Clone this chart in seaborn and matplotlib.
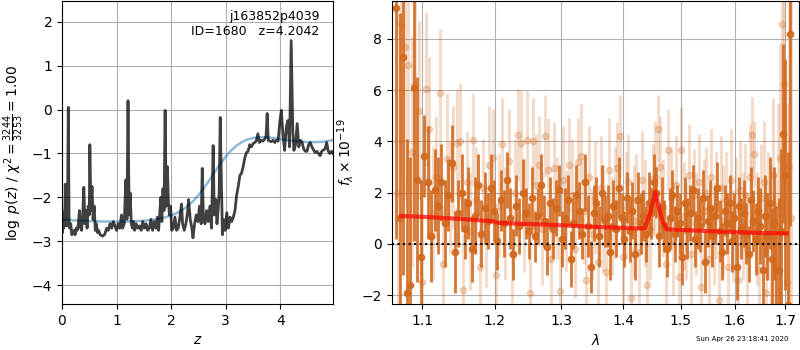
import numpy as np
import matplotlib
matplotlib.use("Agg")
import matplotlib.pyplot as plt
from matplotlib.ticker import FixedLocator, FormatStrFormatter, NullLocator
import seaborn as sns

# ---------------- redshift probability ----------------
pz_z = [
    0.00, 0.01, 0.02, 0.03, 0.04, 0.05, 0.06, 0.07, 0.08, 0.09,
    0.10, 0.115, 0.13, 0.14, 0.16, 0.18, 0.20, 0.22, 0.24, 0.26,
    0.28, 0.30, 0.32, 0.34, 0.36, 0.38, 0.40, 0.42, 0.44, 0.46,
    0.48, 0.50, 0.51, 0.53, 0.55, 0.57, 0.59, 0.61, 0.63, 0.65,
    0.67, 0.70, 0.74, 0.78, 0.82, 0.85, 0.88, 0.91, 0.94, 0.97,
    1.00, 1.03, 1.06, 1.09, 1.11, 1.14, 1.17, 1.19, 1.21, 1.23,
    1.25, 1.27, 1.29, 1.31, 1.33, 1.36, 1.39, 1.42, 1.45, 1.48,
    1.51, 1.54, 1.57, 1.60, 1.63, 1.66, 1.69, 1.72, 1.75, 1.77,
    1.79, 1.81, 1.83, 1.85, 1.87, 1.89, 1.91, 1.93, 1.95, 1.97,
    1.99, 2.01, 2.04, 2.07, 2.10, 2.13, 2.16, 2.19, 2.21, 2.24,
    2.27, 2.30, 2.32, 2.35, 2.38, 2.40, 2.43, 2.46, 2.49, 2.52,
    2.55, 2.57, 2.59, 2.62, 2.65, 2.68, 2.71, 2.74, 2.77, 2.79,
    2.82, 2.84, 2.86, 2.88, 2.90, 2.92, 2.94, 2.96, 2.99, 3.02,
    3.05, 3.08, 3.11, 3.14, 3.17, 3.20, 3.23, 3.26, 3.29, 3.32,
    3.35, 3.38, 3.41, 3.44, 3.47, 3.50, 3.53, 3.56, 3.59, 3.62,
    3.65, 3.68, 3.71, 3.74, 3.76, 3.78, 3.81, 3.84, 3.87, 3.90,
    3.93, 3.96, 3.99, 4.02, 4.05, 4.08, 4.11, 4.14, 4.17, 4.20,
    4.23, 4.25, 4.28, 4.31, 4.34, 4.37, 4.40, 4.43, 4.46, 4.49,
    4.52, 4.55, 4.58, 4.61, 4.64, 4.67, 4.70, 4.73, 4.76, 4.79,
    4.82, 4.85, 4.88, 4.91, 4.94, 4.97,
]
pz_logp = [
    -2.30, -2.80, -2.45, -2.70, -2.55, -2.65, -1.70, -2.60, -1.75, -2.65,
    -2.50, 0.05, -2.55, -2.70, -2.60, -2.85, -2.80, -2.75, -2.85, -2.70,
    -2.75, -2.60, -2.30, -2.70, -2.75, -2.40, -1.77, -2.60, -2.30, -2.70,
    -2.20, -2.40, -0.80, -2.30, -1.75, -2.50, -2.20, -2.75, -2.60, -2.80,
    -2.75, -2.85, -2.88, -2.85, -2.70, -2.75, -2.60, -2.70, -2.55, -2.65,
    -2.75, -2.60, -2.70, -2.40, -2.70, -2.60, -1.60, -2.50, 0.20, -2.40,
    -1.90, -2.60, -2.70, -2.55, -2.75, -2.60, -2.70, -2.65, -2.75, -2.55,
    -2.70, -2.60, -2.75, -2.70, -2.50, -2.75, -2.55, -2.70, -2.45, -2.75,
    -2.40, -2.00, -2.55, -1.80, -2.30, -0.02, -2.20, -1.30, -2.10, -2.40,
    -2.20, -2.75, -2.70, -2.45, -2.75, -2.70, -2.45, -2.15, -2.60, -2.75,
    -2.60, -2.35, -2.05, -2.50, -2.70, -2.92, -2.60, -2.40, -2.55, -2.20,
    -2.60, -1.34, -2.40, -2.60, -2.30, -2.55, -2.20, -2.70, -0.82, -2.40,
    -2.05, -2.60, -2.30, -1.90, -0.18, -1.60, -2.85, -2.50, -2.75, -2.35,
    -2.70, -2.45, -2.55, -2.45, -2.30, -1.95, -1.75, -1.50, -1.45, -1.30,
    -1.10, -0.98, -0.95, -0.80, -0.85, -0.78, -0.75, -0.72, -0.55, -0.75,
    -0.70, -0.72, -0.68, -0.60, -0.09, -0.70, -0.72, -0.73, -0.70, -0.75,
    -0.70, -0.72, -0.30, -0.02, -0.60, -0.93, -0.40, -0.25, -0.85, 1.57,
    -0.50, -0.93, -0.80, -0.32, -0.85, -0.70, -0.75, -0.90, -0.95, -0.95,
    -0.80, -0.75, -0.85, -0.92, -0.98, -0.95, -1.00, -1.05, -0.95, -0.92,
    -0.90, -0.75, -0.95, -1.00, -0.95, -1.00,
]

# smooth prior curve
prior_z = [
    0.0, 0.1, 0.2, 0.3, 0.4, 0.5, 0.6, 0.7, 0.8, 0.9,
    1.0, 1.1, 1.2, 1.3, 1.4, 1.5, 1.6, 1.7, 1.8, 1.9,
    2.0, 2.1, 2.2, 2.3, 2.4, 2.5, 2.6, 2.7, 2.8, 2.9,
    3.0, 3.1, 3.2, 3.3, 3.4, 3.5, 3.6, 3.7, 3.8, 3.9,
    4.0, 4.1, 4.2, 4.3, 4.4, 4.5, 4.6, 4.7, 4.8, 4.9, 4.97,
]
prior_logp = [
    -2.50, -2.51, -2.52, -2.53, -2.53, -2.54, -2.54, -2.55, -2.55, -2.55,
    -2.55, -2.55, -2.55, -2.54, -2.54, -2.53, -2.52, -2.50, -2.48, -2.45,
    -2.41, -2.36, -2.29, -2.20, -2.09, -1.95, -1.79, -1.61, -1.42, -1.24,
    -1.07, -0.93, -0.82, -0.74, -0.68, -0.65, -0.63, -0.63, -0.64, -0.65,
    -0.67, -0.69, -0.71, -0.72, -0.73, -0.74, -0.74, -0.74, -0.73, -0.71, -0.69,
]

# ---------------- 1D spectrum ----------------
wave_step = 0.0046       # microns per pixel
dark_wave0 = 1.0660
light_wave0 = 1.0683

dark_flux = [
    9.2, 1.0, 7.3, -1.9, -1.6, 6.1, 2.5, -0.5, 3.45, 2.4,
    0.3, 2.1, 1.5, 2.4, 0.8, 1.9, 3.15, -0.3, 1.2, 2.0,
    0.6, 1.6, -0.2, 1.1, 2.3, 0.4, 1.4, 0.9, 2.2, 1.3,
    0.1, 1.7, 0.8, 2.5, 1.0, -0.4, 1.5, 0.7, 2.0, 1.2,
    0.5, 1.8, 0.3, 1.1, 2.3, 0.9, -0.1, 1.6, 0.6, 1.4,
    2.1, 0.2, 1.0, 1.7, -0.6, 0.8, 1.9, 1.3, 0.4, 2.4,
    0.7, -0.9, 1.2, 1.6, 0.3, 2.0, 0.9, 1.1, -0.3, 1.5,
    0.6, 2.2, 1.0, 0.2, 1.8, 0.5, 1.3, -0.4, 1.7, 0.8,
    1.1, 0.4, 1.6, 1.2, 2.4, 2.0, 0.3, 1.5, 0.7, -0.2,
    1.0, 1.9, 0.4, 1.3, 0.8, -0.5, 1.6, 0.6, 1.2, 2.1,
    0.2, 1.0, 0.7, 1.8, -0.7, 0.9, 1.4, 0.3, 1.1, 2.2,
    0.5, -0.3, 1.3, 0.8, 1.6, 0.1, 1.0, -0.9, 1.5, 0.6,
    1.2, 0.4, -0.4, 1.7, 0.9, 0.2, 1.3, 0.7, -1.0, 1.1,
    0.3, 1.6, -0.6, 0.8, -1.0, -1.0, 0.5, 4.3, 2.7, -2.4, 8.2,
]
dark_err = [
    9.0, 8.0, 8.5, 6.0, 5.0, 6.0, 4.0, 3.0, 1.6, 2.2,
    1.8, 1.6, 1.9, 1.5, 1.7, 1.4, 1.5, 1.6, 1.3, 1.5,
    1.2, 1.4, 1.3, 1.5, 1.2, 1.3, 1.4, 1.1, 1.3, 1.2,
    1.1, 1.2, 1.3, 1.1, 1.2, 1.0, 1.2, 1.1, 1.3, 1.0,
    1.1, 1.2, 1.0, 1.1, 1.2, 1.0, 1.1, 1.0, 1.2, 1.1,
    1.0, 1.1, 1.2, 1.0, 1.1, 1.0, 1.2, 1.1, 1.0, 1.1,
    1.2, 1.0, 1.1, 1.0, 1.2, 1.1, 1.0, 1.2, 1.1, 1.0,
    1.1, 1.2, 1.0, 1.1, 1.0, 1.2, 1.1, 1.0, 1.1, 1.2,
    1.0, 1.1, 1.2, 1.0, 1.1, 1.0, 1.2, 1.1, 1.0, 1.1,
    1.2, 1.0, 1.1, 1.0, 1.2, 1.1, 1.0, 1.2, 1.1, 1.0,
    1.1, 1.2, 1.0, 1.1, 1.2, 1.0, 1.1, 1.2, 1.1, 1.0,
    1.2, 1.1, 1.0, 1.2, 1.1, 1.2, 1.0, 1.3, 1.1, 1.2,
    1.3, 1.2, 1.1, 1.3, 1.2, 1.4, 1.3, 1.5, 1.4, 1.6,
    1.7, 1.8, 2.0, 2.2, 2.5, 2.8, 3.2, 3.5, 4.5, 6.0, 7.5,
]

light_flux = [
    2.0, 8.6, 7.7, 7.0, 3.6, 6.2, 5.2, -1.5, 6.05, 4.5,
    1.2, 2.6, 5.9, -0.8, 3.3, 1.8, 3.0, 3.95, 4.0, -1.8,
    2.4, 0.5, 4.05, 1.7, -0.9, 2.2, 0.3, 3.1, 3.35, -1.2,
    1.5, 3.9, 0.8, 3.25, -0.4, 2.0, 4.25, 3.95, 1.1, 4.05,
    -1.9, 4.0, 2.3, 3.1, 0.6, 4.2, 2.9, -0.6, 2.95, 1.4,
    -1.85, 2.5, 0.9, 3.1, 1.9, -0.2, 3.2, 3.45, 1.3, -1.4,
    2.6, 0.4, 1.8, -0.7, 2.2, 1.0, -1.1, 2.9, 0.7, 1.6,
    2.95, 4.2, -0.5, 1.5, 2.4, -2.1, 0.9, 1.7, -0.3, 2.5,
    1.2, -1.6, 0.6, 2.1, 2.6, 4.5, 3.0, 1.4, -0.8, 3.65,
    1.8, 0.2, 2.3, -1.3, 3.65, 1.1, 0.5, 2.7, -0.4, 1.9,
    0.8, 2.4, -1.7, 1.3, 2.0, -0.6, 2.6, 0.4, 1.5, -2.2,
    2.2, 0.9, 1.7, -0.9, 2.5, 0.3, 1.2, -1.4, 2.1, 0.7,
    1.9, -0.2, 2.6, 4.25, 3.5, 0.6, -1.0, 1.8, 2.4, -1.9,
    1.1, 0.2, 2.7, -0.7, 1.5, 3.35, 8.6, 6.25, -1.5, 3.0, 1.0,
]
light_err = [
    7.0, 6.0, 6.0, 5.0, 4.5, 4.0, 3.5, 4.0, 3.0, 2.8,
    2.6, 2.4, 2.5, 2.3, 2.6, 2.2, 2.4, 2.1, 2.3, 2.2,
    2.0, 2.3, 1.8, 2.1, 2.2, 1.9, 2.0, 2.3, 1.9, 2.1,
    2.0, 1.8, 2.2, 2.0, 1.9, 2.1, 1.8, 2.0, 2.2, 1.9,
    2.1, 1.7, 2.0, 1.9, 2.2, 1.6, 2.0, 2.1, 1.8, 2.0,
    1.9, 2.1, 2.0, 1.8, 2.2, 1.9, 1.7, 2.0, 2.1, 1.9,
    2.0, 1.8, 2.2, 1.9, 2.0, 2.1, 1.8, 2.0, 1.9, 2.2,
    1.8, 1.6, 2.0, 2.1, 1.9, 2.0, 2.2, 1.8, 2.0, 1.9,
    2.1, 1.9, 2.0, 1.8, 2.2, 1.3, 2.0, 1.9, 2.1, 1.6,
    2.0, 2.2, 1.9, 2.0, 1.7, 2.1, 1.9, 2.0, 2.2, 1.8,
    2.0, 1.9, 2.1, 2.0, 1.8, 2.2, 1.9, 2.0, 2.1, 1.9,
    2.0, 2.2, 1.9, 2.1, 2.0, 1.8, 2.2, 2.0, 1.9, 2.1,
    2.0, 2.2, 2.1, 1.5, 1.3, 2.2, 2.3, 2.1, 2.4, 2.3,
    2.5, 2.8, 3.0, 3.5, 4.0, 4.5, 5.0, 6.0, 7.0, 8.0, 9.0,
]

# best-fit model
model_wave = [1.073, 1.10, 1.15, 1.19, 1.20, 1.205, 1.25, 1.30, 1.35, 1.40,
              1.43, 1.437, 1.446, 1.455, 1.462, 1.468, 1.475, 1.50, 1.55,
              1.60, 1.65, 1.703]
model_flux = [1.09, 1.06, 0.98, 0.90, 0.87, 0.82, 0.78, 0.73, 0.67, 0.63,
              0.60, 0.62, 1.20, 2.04, 1.35, 0.85, 0.57, 0.55, 0.50,
              0.46, 0.43, 0.41]

wave_ticks = [1.1, 1.2, 1.3, 1.4, 1.5, 1.6, 1.7]

root_name = "j163852p4039"
obj_id = 1680
z_best = 4.2042
chi2_num, chi2_den = 3244, 3253
timestamp = "Sun Apr 26 23:18:41 2020"

spec_color = "chocolate"

fig = plt.figure(figsize=(8, 3.5), dpi=100)
ax_pz = fig.add_axes([0.0775, 0.131, 0.339, 0.866])
ax_sp = fig.add_axes([0.490, 0.131, 0.509, 0.866])

# --- p(z) panel ---
sns.lineplot(x=prior_z, y=prior_logp, ax=ax_pz, color="#1f77b4", alpha=0.5,
             linewidth=1.8, estimator=None, sort=False)
sns.lineplot(x=pz_z, y=pz_logp, ax=ax_pz, color="k", alpha=0.75,
             linewidth=2.0, estimator=None, sort=False)
ax_pz.set_xlim(0, 4.97)
ax_pz.set_ylim(max(pz_logp) - 6, max(pz_logp) + 0.9)
ax_pz.grid(True)
ax_pz.set_axisbelow(True)
ax_pz.set_xlabel(r"$z$")
ax_pz.set_ylabel(r"$\log\ p(z)$" + " / " +
                 r"$\chi^2=\frac{%d}{%d}=%.2f$" % (chi2_num, chi2_den, chi2_num / chi2_den))
ax_pz.text(0.95, 0.97, "%s\nID=%d   z=%.4f" % (root_name, obj_id, z_best),
           transform=ax_pz.transAxes, ha="right", va="top", fontsize=9)

# --- spectrum panel ---
dark_wave = dark_wave0 + wave_step * np.arange(len(dark_flux))
light_wave = light_wave0 + wave_step * np.arange(len(light_flux))

ax_sp.errorbar(light_wave, light_flux, yerr=light_err, fmt="o", color=spec_color,
               alpha=0.25, markersize=4.5, elinewidth=2, capsize=0, zorder=1)
ax_sp.errorbar(dark_wave, dark_flux, yerr=dark_err, fmt="o", color=spec_color,
               alpha=0.9, markersize=4.5, elinewidth=2, capsize=0, zorder=2)
sns.lineplot(x=model_wave, y=model_flux, ax=ax_sp, color="red", alpha=0.7,
             linewidth=3, estimator=None, sort=False, zorder=3)
ax_sp.axhline(0, color="k", linestyle=":", linewidth=1.5, zorder=4)

ax_sp.set_xscale("log")
ax_sp.set_xlim(1.061, 1.729)
ax_sp.xaxis.set_major_locator(FixedLocator(wave_ticks))
ax_sp.xaxis.set_major_formatter(FormatStrFormatter("%.1f"))
ax_sp.xaxis.set_minor_locator(NullLocator())
ax_sp.set_ylim(-2.35, 9.48)
ax_sp.set_yticks([-2, 0, 2, 4, 6, 8])
ax_sp.grid(True)
ax_sp.set_axisbelow(True)
ax_sp.set_xlabel(r"$\lambda$")
ax_sp.set_ylabel(r"$f_\lambda\times10^{-19}$")

fig.text(0.985, 0.031, timestamp, ha="right", va="center", fontsize=5)

fig.savefig("out.png", dpi=100)
